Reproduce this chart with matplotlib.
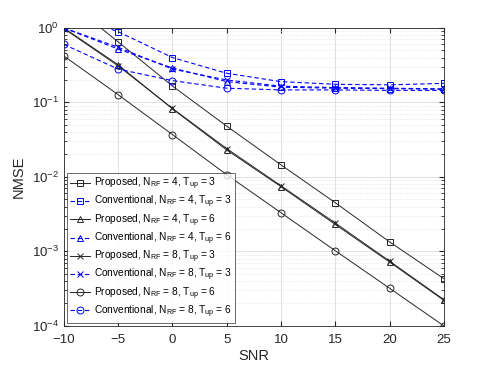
import numpy as np
import matplotlib
matplotlib.use("Agg")
import matplotlib.pyplot as plt

# --- data ---
snr = [-10, -5, 0, 5, 10, 15, 20, 25]

prop_n4_t3 = [2.5, 0.65, 0.166, 0.048, 0.0145, 0.0045, 0.00134, 0.00043]
conv_n4_t3 = [1.6, 0.89, 0.40, 0.246, 0.19, 0.175, 0.172, 0.18]
prop_n4_t6 = [1.0, 0.32, 0.082, 0.023, 0.0074, 0.0023, 0.00072, 0.00022]
conv_n4_t6 = [1.0, 0.52, 0.29, 0.19, 0.16, 0.155, 0.153, 0.15]
prop_n8_t3 = [0.98, 0.31, 0.083, 0.024, 0.0076, 0.0024, 0.00074, 0.000225]
conv_n8_t3 = [1.0, 0.55, 0.28, 0.20, 0.165, 0.158, 0.155, 0.152]
prop_n8_t6 = [0.42, 0.127, 0.037, 0.0107, 0.0033, 0.00102, 0.00032, 0.0001]
conv_n8_t6 = [0.6, 0.28, 0.196, 0.155, 0.147, 0.147, 0.145, 0.145]

labels = [
    r"Proposed, N$_{\mathrm{RF}}$ = 4, T$_{\mathrm{up}}$ = 3",
    r"Conventional, N$_{\mathrm{RF}}$ = 4, T$_{\mathrm{up}}$ = 3",
    r"Proposed, N$_{\mathrm{RF}}$ = 4, T$_{\mathrm{up}}$ = 6",
    r"Conventional, N$_{\mathrm{RF}}$ = 4, T$_{\mathrm{up}}$ = 6",
    r"Proposed, N$_{\mathrm{RF}}$ = 8, T$_{\mathrm{up}}$ = 3",
    r"Conventional, N$_{\mathrm{RF}}$ = 8, T$_{\mathrm{up}}$ = 3",
    r"Proposed, N$_{\mathrm{RF}}$ = 8, T$_{\mathrm{up}}$ = 6",
    r"Conventional, N$_{\mathrm{RF}}$ = 8, T$_{\mathrm{up}}$ = 6",
]
series = [prop_n4_t3, conv_n4_t3, prop_n4_t6, conv_n4_t6,
          prop_n8_t3, conv_n8_t3, prop_n8_t6, conv_n8_t6]
markers = ["s", "s", "^", "^", "x", "x", "o", "o"]

plt.rcParams["font.family"] = ["Liberation Sans", "DejaVu Sans"]
plt.rcParams["mathtext.fontset"] = "custom"
plt.rcParams["mathtext.rm"] = "Liberation Sans"
plt.rcParams["mathtext.it"] = "Liberation Sans:italic"
plt.rcParams["mathtext.default"] = "rm"

fig = plt.figure(figsize=(4.91, 3.72), dpi=100)
ax = fig.add_axes([0.130, 0.124, 0.774, 0.801])

for i, (vals, mk, lab) in enumerate(zip(series, markers, labels)):
    if i % 2 == 0:
        ax.semilogy(snr, vals, color="#262626", lw=0.7, marker=mk, ms=5,
                    mfc="none", mew=0.7, label=lab)
    else:
        ax.semilogy(snr, vals, color="#0000ff", lw=0.8, ls=(0, (4, 2.5)),
                    marker=mk, ms=5, mfc="none", mew=0.7, label=lab)

ax.set_xlim(-10, 25)
ax.set_ylim(1e-4, 1)
ax.set_xticks([-10, -5, 0, 5, 10, 15, 20, 25])
ax.grid(True, which="major", color="#dcdcdc", lw=0.6)
ax.grid(True, which="minor", color="#e0e0e0", lw=0.6, ls=":")
ax.tick_params(which="both", direction="in", top=True, right=True,
               labelsize=9.5, colors="#262626")
ax.tick_params(axis="x", pad=6)
ax.tick_params(which="minor", length=2)
for s in ax.spines.values():
    s.set_color("#262626")
    s.set_linewidth(0.6)

ax.set_xlabel("SNR", fontsize=10.5, color="#262626", labelpad=2)
ax.set_ylabel("NMSE", fontsize=10.5, color="#262626")

leg = ax.legend(loc="lower left", fontsize=7.3, frameon=True, fancybox=False,
                edgecolor="#262626", borderaxespad=0.3, handlelength=2.0,
                labelspacing=0.18, borderpad=0.3, handletextpad=0.4)
leg.get_frame().set_linewidth(0.6)

fig.savefig("out.png", dpi=100)
